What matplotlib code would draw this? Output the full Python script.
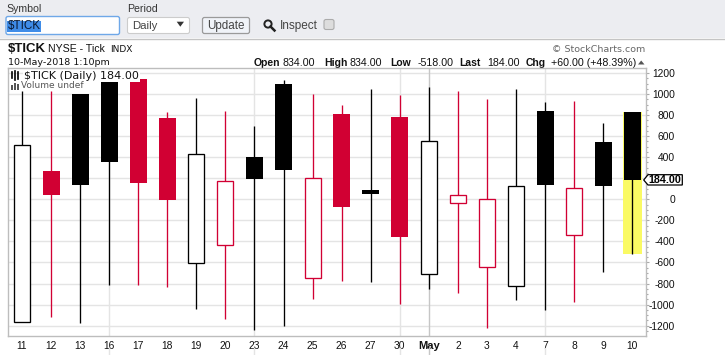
import matplotlib
matplotlib.use("Agg")
import matplotlib.pyplot as plt
from matplotlib.patches import Rectangle, FancyBboxPatch, Polygon, Circle

# daily candles for $TICK
labels = ["11", "12", "13", "16", "17", "18", "19", "20", "23", "24", "25", "26",
          "27", "30", "May", "2", "3", "4", "7", "8", "9", "10"]
opens = [-1169, 269, 1000, 1124, 1143, 772, -608, -437, 402, 1095, -751, 810,
         88, 782, -713, -38, -646, -827, 839, -342, 544, 834]
closes = [513, 41, 136, 358, 155, -7, 427, 171, 196, 281, 199, -70,
          50, -355, 551, 38, 0, 123, 139, 104, 124, 184]
highs = [1030, 1029, 1000, 1124, 1143, 829, 962, 839, 696, 1133, 1000, 896,
         1048, 991, 1067, 1029, 953, 1048, 924, 934, 725, 834]
lows = [-1169, -1115, -1172, -811, -811, -830, -1039, -1134, -1239, -1200, -944, -773,
        -782, -992, -849, -887, -1220, -954, -1048, -972, -688, -518]
y_ticks = [1200, 1000, 800, 600, 400, 200, 0, -200, -400, -600, -800, -1000, -1200]
hidden_tick = 200  # sits under the last price flag
week_starts = ["16", "23", "30", "7"]

RED = "#D10033"
GRID = "#E4E4E4"
FRAME = "#BDBDBD"
TXT = "#111111"
SANS = "Liberation Sans"
W, H = 725, 355

plt.rcParams["font.family"] = SANS
fig = plt.figure(figsize=(W / 100, H / 100), dpi=100, facecolor="white")

# page chrome in pixel coordinates
bg = fig.add_axes([0, 0, 1, 1])
bg.set_xlim(0, W)
bg.set_ylim(H, 0)
bg.axis("off")
bg.add_patch(Rectangle((0, 0), W, 38, fc="#ECEDF1", ec="none"))
bg.plot([0, W], [38.5, 38.5], color="#C4C4C4", lw=1)

bg.text(6, 8.5, "Symbol", fontsize=7.6, color="#333333", va="center")
bg.text(127.5, 8.5, "Period", fontsize=7.6, color="#333333", va="center")
bg.add_patch(FancyBboxPatch((6, 16.5), 113.5, 18, boxstyle="round,pad=0,rounding_size=2",
                            fc="white", ec="#6FA8E8", lw=1))
bg.add_patch(Rectangle((6.7, 20.5), 34.5, 11.3, fc="#3F8CE8", ec="none"))
bg.text(7.5, 26, "$TICK", fontsize=8.4, color="#0A1A33", va="center")
bg.add_patch(FancyBboxPatch((127.5, 17.5), 62, 16, boxstyle="round,pad=0,rounding_size=2",
                            fc="white", ec="#CCCCCC", lw=0.8))
bg.text(132.5, 25.8, "Daily", fontsize=8.2, color="#444444", va="center")
bg.add_patch(Polygon([[176.7, 21.7], [184, 21.7], [180.3, 26.7]], fc="#333333", ec="none"))
bg.add_patch(FancyBboxPatch((202.5, 17.5), 47, 16, boxstyle="round,pad=0,rounding_size=2",
                            fc="#F0F3F8", ec="#9A9A9A", lw=0.9))
bg.text(226, 25.8, "Update", fontsize=8.4, color="#444444", va="center", ha="center")
bg.add_patch(Circle((268, 24), 3.6, fc="none", ec="#222222", lw=1.4))
bg.plot([270.5, 274.5], [26.5, 30.5], color="#222222", lw=1.8)
bg.text(280, 25.8, "Inspect", fontsize=8.5, color="#444444", va="center")
bg.add_patch(FancyBboxPatch((324, 19.5), 10, 10, boxstyle="round,pad=0,rounding_size=2",
                            fc="#DDDDDD", ec="#ABABAB", lw=0.8))

# chart titles
bg.text(8, 49.5, "$TICK", fontsize=9.5, fontweight="bold", color=TXT, va="center")
bg.text(48.5, 49.5, "NYSE - Tick", fontsize=7.6, color=TXT, va="center")
bg.text(110, 49.5, "INDX", fontsize=6.5, color=TXT, va="center", family="DejaVu Sans")
bg.text(8, 62.5, "10-May-2018 1:10pm", fontsize=6.8, color=TXT, va="center", family="DejaVu Sans")
bg.text(645.5, 49.5, "© StockCharts.com", fontsize=6.8, color="#666666", va="center", ha="right",
        family="DejaVu Sans")

o, h, l, c = opens[-1], highs[-1], lows[-1], closes[-1]
chg = c - closes[-2]
pct = chg / closes[-2] * 100
stats = [(253.7, "Open", f"{o:.2f}"), (324, "High", f"{h:.2f}"), (390.7, "Low", f"{l:.2f}"),
         (459.7, "Last", f"{c:.2f}"), (525.7, "Chg", f"{chg:+.2f} ({pct:+.2f}%)")]
offsets = [28.5, 26, 26.5, 28, 25]
for (x, name, value), dx in zip(stats, offsets):
    bg.text(x, 62.5, name, fontsize=7.5, fontweight="bold", color=TXT, va="center")
    bg.text(x + dx, 62.5, value, fontsize=7.7, color=TXT, va="center")
bg.add_patch(Polygon([[638, 64.5], [644.5, 64.5], [641.2, 60.5]], fc="#555555", ec="none"))

# price panel
left, right, top, bottom = 8.3, 645.7, 68.3, 336.3
ax = fig.add_axes([left / W, 1 - bottom / H, (right - left) / W, (bottom - top) / H])
ax.set_facecolor("none")
ax.set_ylim((199.3 - bottom) / 0.10525, (199.3 - top) / 0.10525)
ax.set_xlim((left - 22) / 29.06, (right - 22) / 29.06)

for v in y_ticks:
    ax.axhline(v, color=GRID, lw=1, zorder=1)
for i, lab in enumerate(labels):
    if lab in week_starts or lab == "May":
        col = "#C6C6C6" if lab == "May" else GRID
        ax.axvline(i, color=col, lw=1, zorder=1)
        # the line pokes out again below the date labels
        ax.plot([i, i], [-0.045, -0.065], color=col, lw=1, clip_on=False,
                transform=ax.get_xaxis_transform())

# today's range highlight
n = len(labels) - 1
ax.bar(n, highs[-1] - lows[-1], bottom=lows[-1], width=0.655, color="#FAFA64",
       edgecolor="none", zorder=2)

for i in range(len(labels)):
    up = i == 0 or closes[i] >= closes[i - 1]
    col = "black" if up else RED
    ax.vlines(i, lows[i], highs[i], color=col, lw=0.95, zorder=3)
    y0, y1 = min(opens[i], closes[i]), max(opens[i], closes[i])
    if closes[i] > opens[i]:
        ax.bar(i, y1 - y0, bottom=y0, width=0.55, facecolor="white", edgecolor=col,
               linewidth=0.95, zorder=4)
    else:
        ax.bar(i, y1 - y0, bottom=y0, width=0.585, color=col, linewidth=0, zorder=4)

for s in ["left", "right", "top", "bottom"]:
    ax.spines[s].set_color(FRAME)
    ax.spines[s].set_linewidth(1)
    ax.spines[s].set_zorder(6)

ax.yaxis.tick_right()
ax.set_yticks(y_ticks)
ax.set_yticklabels(["" if v == hidden_tick else str(v) for v in y_ticks], fontsize=7.4, color=TXT)
ax.set_yticks(range(-1250, 1250, 50), minor=True)
ax.tick_params(axis="y", which="major", length=2, width=0.8, color="#AAAAAA", pad=4)
ax.tick_params(axis="y", which="minor", length=1.5, width=0.8, color="#AAAAAA")
for t in ax.get_yticklabels():
    t.set_ha("right")
    t.set_x(1.0 + 21 / (right - left))

ax.set_xticks(range(len(labels)))
ax.set_xticklabels(labels, fontsize=7.4, color=TXT)
ax.tick_params(axis="x", length=0, pad=3.5)
for t in ax.get_xticklabels():
    if t.get_text() == "May":
        t.set_fontweight("bold")
        t.set_fontsize(8)

# legend labels over the candles
ax.text(0.025, 0.972, "$TICK (Daily) 184.00", transform=ax.transAxes, fontsize=8,
        family="DejaVu Sans", color=TXT, va="center", zorder=8,
        bbox=dict(fc="white", ec="none", pad=0.7))
ax.text(0.0205, 0.936, "Volume undef", transform=ax.transAxes, fontsize=6.5,
        family="DejaVu Sans", color="#555555", va="center", zorder=8,
        bbox=dict(fc="white", ec="none", pad=0.3))

# last price flag
fg = fig.add_axes([0, 0, 1, 1], facecolor="none")
fg.set_xlim(0, W)
fg.set_ylim(H, 0)
fg.axis("off")
fg.add_patch(Polygon([[643.7, 180], [648, 174.7], [682.3, 174.7], [682.3, 185], [648, 185]],
                     fc="white", ec="black", lw=0.9))
fg.text(665, 180.1, f"{closes[-1]:.2f}", fontsize=7.7, fontweight="bold", color="black",
        ha="center", va="center")
for x, y_top in zip([11.5, 14.2, 16.9], [85, 82.5, 84]):
    fg.add_patch(Rectangle((x, y_top), 2, 89.5 - y_top, fc="#555555", ec="none"))
for x, y0, y1 in [(12.5, 72, 78), (15, 71, 80), (18, 72, 79)]:
    fg.plot([x, x], [y0, y1], color="black", lw=1.2)

fig.savefig("out.png", dpi=100)
